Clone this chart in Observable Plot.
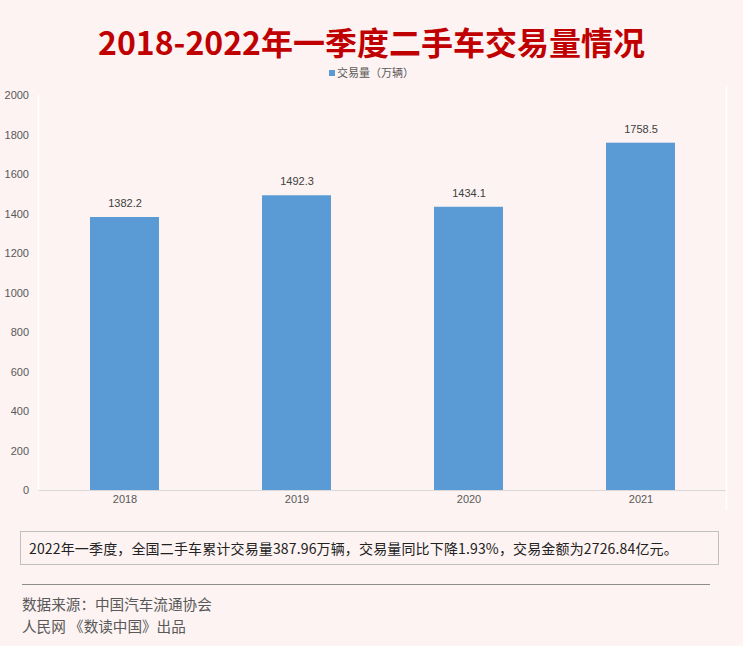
<!DOCTYPE html>
<html><head><meta charset="utf-8">
<script src="https://cdn.jsdelivr.net/npm/d3@7"></script>
<script src="https://cdn.jsdelivr.net/npm/@observablehq/plot@0.6"></script>
<style>
html,body{margin:0;padding:0;}
body{width:743px;height:646px;background:#fcf3f2;position:relative;overflow:hidden;font-family:"Noto Sans CJK SC","Noto Sans",sans-serif;}
#title{position:absolute;left:0;width:743px;top:23px;height:36px;text-align:center;font-size:32px;font-weight:bold;color:#c00000;line-height:36px;}
#legend{position:absolute;left:0;width:743px;top:65px;text-align:center;font-size:11px;color:#595959;line-height:14px;}
#legend span.sw{display:inline-block;width:6px;height:6px;background:#5b9bd5;margin-right:2px;vertical-align:1px;}
#chart{position:absolute;left:0;top:85px;}
#note{position:absolute;left:20px;top:531px;width:697px;height:32px;border:1px solid #bfbfbf;font-size:14px;color:#222;line-height:32px;letter-spacing:0.15px;white-space:nowrap;}
#note span{margin-left:8px;}
#rule{position:absolute;left:22px;top:584px;width:688px;height:1px;background:#8c8c8c;}
#src{position:absolute;left:22px;top:593px;font-size:14.6px;color:#595959;line-height:22px;}
</style></head>
<body>
<div id="title">2018-2022年一季度二手车交易量情况</div>
<div id="legend"><span class="sw"></span>交易量（万辆）</div>
<div id="chart"></div>
<div id="note"><span>2022年一季度，全国二手车累计交易量387.96万辆，交易量同比下降1.93%，交易金额为2726.84亿元。</span></div>
<div id="rule"></div>
<div id="src">数据来源：中国汽车流通协会<br>人民网 《数读中国》出品</div>
<script>
const years = ["2018", "2019", "2020", "2021"];
const volumes = [1382.2, 1492.3, 1434.1, 1758.5];
const yTicks = [0, 200, 400, 600, 800, 1000, 1200, 1400, 1600, 1800, 2000];
const data = years.map((y, i) => ({year: y, value: volumes[i]}));

const chart = Plot.plot({
  width: 743,
  height: 430,
  marginLeft: 38.5,
  marginRight: 16.5,
  marginTop: 10,
  marginBottom: 25,
  style: {background: "transparent", fontSize: "11px", color: "#595959", fontFamily: "'Liberation Sans', Arial, sans-serif"},
  x: {domain: years, paddingInner: 0.6, paddingOuter: 0.3, align: 0.5, label: null},
  y: {domain: [0, 2000], label: null},
  marks: [
    Plot.axisY({ticks: yTicks, tickFormat: d => String(d), tickSize: 0, tickPadding: 10, fill: "#595959", label: null}),
    Plot.axisX({tickSize: 0, tickPadding: 5, fill: "#595959", label: null}),
    Plot.barY(data, {x: "year", y: "value", fill: "#5b9bd5"}),
    Plot.ruleY([0], {stroke: "#d9d9d9", strokeWidth: 1}),
    Plot.text(data, {x: "year", y: "value", text: d => d.value.toFixed(1), dy: -14, fill: "#404040", fontSize: 11})
  ]
});
document.getElementById("chart").appendChild(chart);
const svg = d3.select(chart);
const yS = chart.scale("y");
svg.append("line").attr("x1", 38.5).attr("x2", 38.5).attr("y1", yS.apply(2000)).attr("y2", yS.apply(0)).attr("stroke", "#ffffff").attr("stroke-width", 1.5);
svg.append("line").attr("x1", 726.5).attr("x2", 726.5).attr("y1", 0).attr("y2", yS.apply(0) + 20).attr("stroke", "#ffffff").attr("stroke-width", 1.5);
</script>
</body></html>
